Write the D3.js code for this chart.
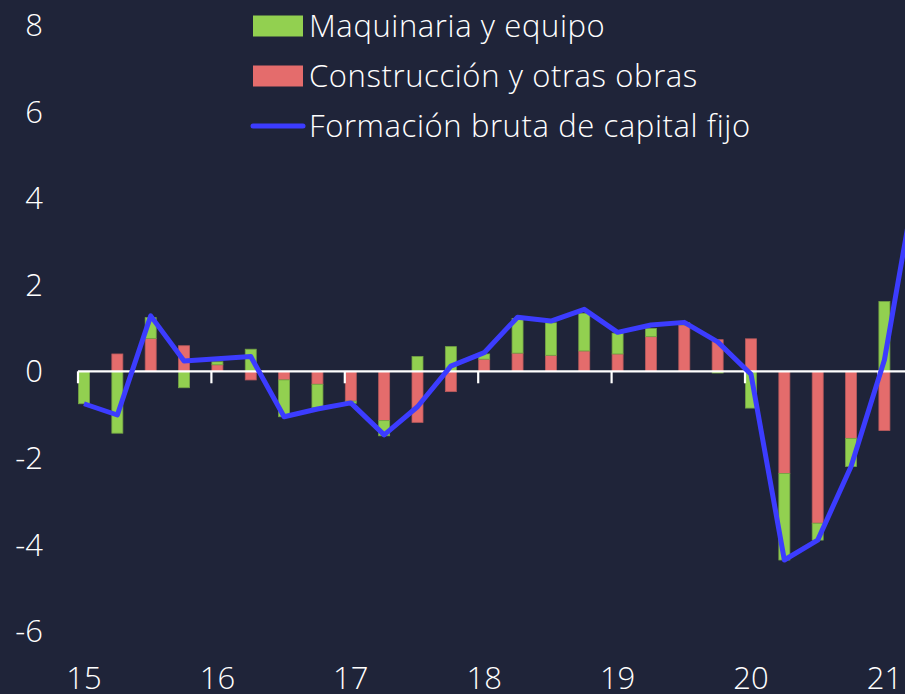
<!DOCTYPE html>
<html>
<head>
<meta charset="utf-8">
<script src="https://cdn.jsdelivr.net/npm/d3@7"></script>
<style>
  html, body { margin: 0; padding: 0; background: #1f2439; overflow: hidden; }
  svg { display: block; font-family: "Open Sans", "Noto Sans", sans-serif; font-weight: 300; }
  text { fill: #ffffff; }
</style>
</head>
<body>
<svg id="chart" width="905" height="694"></svg>
<script>
// quarters 2015T1 .. 2021T2 (last one only has the line value)
const quarters = ["15T1", "15T2", "15T3", "15T4", "16T1", "16T2", "16T3", "16T4",
    "17T1", "17T2", "17T3", "17T4", "18T1", "18T2", "18T3", "18T4",
    "19T1", "19T2", "19T3", "19T4", "20T1", "20T2", "20T3", "20T4",
    "21T1", "21T2"];
const yearLabels = ["15", "16", "17", "18", "19", "20", "21"];
const yTicks = [-6, -4, -2, 0, 2, 4, 6, 8];

const maquinaria = [-0.75, -1.43, 0.48, -0.38, 0.07, 0.51, -0.85, -0.54,
    -0.05, -0.35, 0.34, 0.57, 0.12, 0.80, 0.75, 0.87,
    0.48, 0.19, 0.05, -0.04, -0.85, -2.00, -0.39, -0.65,
    1.61, null];
const construccion = [0.00, 0.40, 0.76, 0.59, 0.15, -0.20, -0.20, -0.30,
    -0.69, -1.14, -1.18, -0.47, 0.28, 0.42, 0.37, 0.47,
    0.40, 0.80, 1.07, 0.73, 0.75, -2.36, -3.51, -1.55,
    -1.37, null];
const fbcf = [-0.75, -1.01, 1.28, 0.24, 0.29, 0.34, -1.05, -0.87,
    -0.73, -1.47, -0.82, 0.12, 0.43, 1.25, 1.16, 1.43,
    0.90, 1.07, 1.13, 0.68, -0.07, -4.36, -3.90, -2.20,
    0.26, 4.65];

const GREEN = "#92d050", RED = "#e46c6c", BLUE = "#3c3cff";

const svg = d3.select("#chart");

const x = d3.scaleLinear().domain([0, 24]).range([84, 884.4]);
const y = d3.scaleLinear().domain([-6, 8]).range([631, 25]);
const barW = 11;

// stacked bars (construction closest to zero, machinery outside)
const rows = quarters.map((q, i) => ({ i: i, construccion: construccion[i], maquinaria: maquinaria[i] }))
    .filter(d => d.construccion !== null);
const stack = d3.stack()
    .keys(["construccion", "maquinaria"])
    .offset(d3.stackOffsetDiverging);
const colors = { construccion: RED, maquinaria: GREEN };
const strokes = { construccion: "#b85a5c", maquinaria: "#74a345" };

svg.append("g").selectAll("g")
    .data(stack(rows))
    .enter().append("g")
        .attr("fill", d => colors[d.key])
        .attr("stroke", d => strokes[d.key])
        .attr("stroke-width", 0.8)
    .selectAll("rect")
    .data(d => d)
    .enter().append("rect")
        .attr("x", d => x(d.data.i) - barW / 2)
        .attr("width", barW)
        .attr("y", d => y(Math.max(d[0], d[1])))
        .attr("height", d => Math.abs(y(d[0]) - y(d[1])));

// zero axis with year ticks
const axis = svg.append("g");
axis.append("line")
    .attr("x1", x(0) - 6).attr("x2", 905)
    .attr("y1", y(0)).attr("y2", y(0))
    .attr("stroke", "#ffffff").attr("stroke-width", 2.2);
axis.selectAll("line.tick")
    .data(yearLabels)
    .enter().append("line")
        .attr("class", "tick")
        .attr("x1", (d, k) => x(k * 4) - 6)
        .attr("x2", (d, k) => x(k * 4) - 6)
        .attr("y1", y(0)).attr("y2", y(0) + 12)
        .attr("stroke", "#ffffff").attr("stroke-width", 2.2);

// line
const line = d3.line()
    .x((d, i) => x(i))
    .y(d => y(d))
    .curve(d3.curveLinear);
svg.append("path")
    .datum(fbcf)
    .attr("d", line)
    .attr("fill", "none")
    .attr("stroke", BLUE)
    .attr("stroke-width", 5)
    .attr("stroke-linejoin", "round");

// y labels
svg.append("g").selectAll("text")
    .data(yTicks)
    .enter().append("text")
        .attr("x", 43)
        .attr("y", d => y(d))
        .attr("dy", "0.36em")
        .attr("text-anchor", "end")
        .style("font-size", "31px")
        .text(d => d);

// x labels
svg.append("g").selectAll("text")
    .data(yearLabels)
    .enter().append("text")
        .attr("x", (d, k) => x(k * 4))
        .attr("y", 689)
        .attr("text-anchor", "middle")
        .style("font-size", "31px")
        .text(d => d);

// legend
const legendItems = [
    { name: "Maquinaria y equipo", color: GREEN, type: "rect" },
    { name: "Construcción y otras obras", color: RED, type: "rect" },
    { name: "Formación bruta de capital fijo", color: BLUE, type: "line" }
];
const legend = svg.append("g").attr("transform", "translate(253,26)");
const item = legend.selectAll("g")
    .data(legendItems)
    .enter().append("g")
        .attr("transform", (d, k) => "translate(0," + (k * 50) + ")");
item.filter(d => d.type === "rect").append("rect")
    .attr("x", 0).attr("y", -10.5)
    .attr("width", 50).attr("height", 21)
    .attr("fill", d => d.color);
item.filter(d => d.type === "line").append("line")
    .attr("x1", 0).attr("x2", 50)
    .attr("y1", 0).attr("y2", 0)
    .attr("stroke", d => d.color)
    .attr("stroke-width", 5)
    .attr("stroke-linecap", "round");
item.append("text")
    .attr("x", 56)
    .attr("y", 11)
    .style("font-size", "31px")
    .style("letter-spacing", "0.6px")
    .text(d => d.name);
</script>
</body>
</html>
